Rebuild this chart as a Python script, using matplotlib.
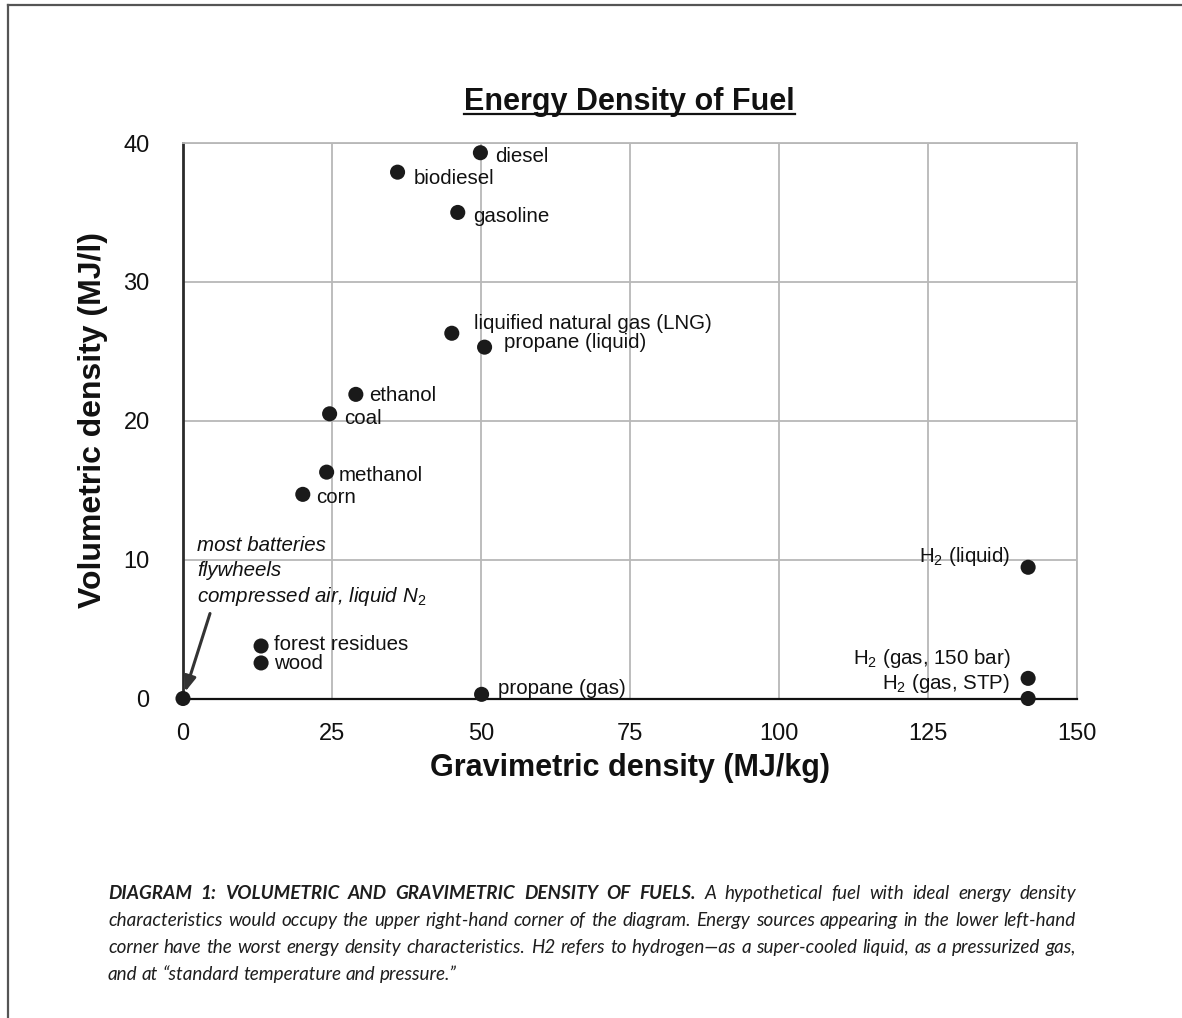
import matplotlib
matplotlib.use("Agg")
import matplotlib.pyplot as plt
from matplotlib.lines import Line2D

plt.rcParams['font.family'] = ['Liberation Sans', 'DejaVu Sans']
plt.rcParams['mathtext.fontset'] = 'custom'
plt.rcParams['mathtext.rm'] = 'Liberation Sans'
plt.rcParams['mathtext.it'] = 'Liberation Sans:italic'
plt.rcParams['mathtext.bf'] = 'Liberation Sans:bold'

# ---------------- data ----------------
fuels = ["diesel", "biodiesel", "gasoline", "liquified natural gas (LNG)",
         "propane (liquid)", "ethanol", "coal", "methanol", "corn",
         "forest residues", "wood", "", "propane (gas)",
         "H$_2$ (liquid)", "H$_2$ (gas, 150 bar)", "H$_2$ (gas, STP)"]
gravimetric = [49.9, 36.0, 46.1, 45.1, 50.6, 29.0, 24.6, 24.1, 20.1,
               13.1, 13.1, 0.0, 50.1, 141.8, 141.8, 141.8]
volumetric = [39.3, 37.9, 35.0, 26.3, 25.3, 21.9, 20.5, 16.3, 14.7,
              3.78, 2.56, 0.0, 0.3, 9.45, 1.45, 0.0]

x_ticks = [0, 25, 50, 75, 100, 125, 150]
y_ticks = [0, 10, 20, 30, 40]

title = "Energy Density of Fuel"
x_label = "Gravimetric density (MJ/kg)"
y_label = "Volumetric density (MJ/l)"
note_lines = ["most batteries", "flywheels", "compressed air, liquid N$_2$"]

caption_bold = "DIAGRAM 1: VOLUMETRIC AND GRAVIMETRIC DENSITY OF FUELS."
caption_lines = [
    "A hypothetical fuel with ideal energy density",
    "characteristics would occupy the upper right-hand corner of the diagram. Energy sources appearing in the lower left-hand",
    "corner have the worst energy density characteristics. H2 refers to hydrogen\u2014as a super-cooled liquid, as a pressurized gas,",
    "and at \u201cstandard temperature and pressure.\u201d",
]

# label placement (pixel offsets from point, ha)
label_style = [
    (15, -4, 'left'), (16, -6, 'left'), (15, -4, 'left'), (22, 10, 'left'),
    (19, 5, 'left'), (13, -1, 'left'), (15, -5, 'left'), (12, -3, 'left'),
    (13, -3, 'left'), (13, 2, 'left'), (13, -1, 'left'), (0, 0, 'left'),
    (16, 6, 'left'), (-18, 11, 'right'), (-18, 20, 'right'), (-18, 15, 'right'),
]

# ---------------- figure ----------------
W, H = 1182, 1018
fig = plt.figure(figsize=(W / 100, H / 100), dpi=100)
fig.patch.set_facecolor('white')

def fx(px):
    return px / W

def fy(py):
    return 1 - py / H

# page frame (top and left edges visible)
fig.add_artist(Line2D([fx(8), fx(8)], [fy(5), fy(H + 5)], color='#555555', lw=1.6))
fig.add_artist(Line2D([fx(8), fx(W + 5)], [fy(5), fy(5)], color='#555555', lw=1.6))

ax_l, ax_r, ax_t, ax_b = 183, 1077, 143, 698.5
ax = fig.add_axes([fx(ax_l), fy(ax_b), fx(ax_r - ax_l), (ax_b - ax_t) / H])
ax.set_xlim(0, 150)
ax.set_ylim(0, 40)
ax.set_xticks(x_ticks)
ax.set_yticks(y_ticks)
ax.set_xticklabels([str(v) for v in x_ticks])
ax.set_yticklabels([str(v) for v in y_ticks])
ax.tick_params(axis='both', length=0, labelsize=17, colors='#111111')
ax.tick_params(axis='x', pad=18)
ax.tick_params(axis='y', pad=24)
ax.grid(True, color='#b8b8b8', lw=1.3)
ax.set_axisbelow(True)
for side in ['top', 'right']:
    ax.spines[side].set_color('#b8b8b8')
    ax.spines[side].set_linewidth(1.3)
ax.spines['left'].set_color('#2a2a2a')
ax.spines['left'].set_linewidth(2.0)
ax.spines['bottom'].set_color('#111111')
ax.spines['bottom'].set_linewidth(1.6)

ax.scatter(gravimetric, volumetric, s=118, color='#1a1a1a', zorder=4, clip_on=False,
           edgecolors='none')

for name, gx, vy, (dx, dy, ha) in zip(fuels, gravimetric, volumetric, label_style):
    if not name:
        continue
    ax.annotate(name, xy=(gx, vy), xytext=(dx, dy), textcoords='offset pixels',
                ha=ha, va='center', fontsize=14.8, color='#111111', zorder=5)

# note about batteries etc., anchored to the origin point
oi = fuels.index("")
ox, oy = gravimetric[oi], volumetric[oi]
for txt, dy in zip(note_lines, [153, 128, 102]):
    ax.annotate(txt, xy=(ox, oy), xytext=(14, dy), textcoords='offset pixels',
                ha='left', va='center', fontsize=14.8, style='italic', color='#111111')
ax.annotate('', xy=(ox, oy), xytext=(27, 85), textcoords='offset pixels',
            arrowprops=dict(arrowstyle='-|>,head_length=0.9,head_width=0.35',
                            color='#333333', lw=2.2, shrinkA=0, shrinkB=5))

# axis labels
fig.text(fx(93), fy(420), y_label, rotation=90, ha='center', va='center',
         fontsize=23, fontweight='bold', color='#111111')
fig.text(fx(629.5), fy(768), x_label, ha='center', va='center',
         fontsize=22, fontweight='bold', color='#111111')

# title with underline
t = fig.text(fx(629.5), fy(110), title, ha='center', va='baseline',
             fontsize=22, fontweight='bold', color='#111111')
renderer = fig.canvas.get_renderer()
bb = t.get_window_extent(renderer)
fig.add_artist(Line2D([bb.x0 / W, bb.x1 / W], [fy(114), fy(114)], color='#111111', lw=1.6))

# caption, justified
cap_font = dict(family=['Lato', 'DejaVu Sans'], style='italic', fontsize=13.6, color='#1e1e1e')
cap_left, cap_right = 108, 1076
baselines = [899, 926, 953, 980]

def place_justified(words, y_px, justify=True):
    artists = []
    widths = []
    for w, bold in words:
        a = fig.text(0, fy(y_px), w, ha='left', va='baseline',
                     fontweight='bold' if bold else 'normal', **cap_font)
        artists.append(a)
        widths.append(a.get_window_extent(renderer).width)
    n = len(words)
    if justify and n > 1:
        gap = (cap_right - cap_left - sum(widths)) / (n - 1)
    else:
        sp = fig.text(0, 0, 'a a', **cap_font)
        sp2 = fig.text(0, 0, 'aa', **cap_font)
        gap = sp.get_window_extent(renderer).width - sp2.get_window_extent(renderer).width
        sp.remove(); sp2.remove()
    x = cap_left
    for a, wdt in zip(artists, widths):
        a.set_x(x / W)
        x += wdt + gap

line_words = [[(w, True) for w in caption_bold.split()] +
              [(w, False) for w in caption_lines[0].split()]]
for ln in caption_lines[1:]:
    line_words.append([(w, False) for w in ln.split()])
for i, (words, yb) in enumerate(zip(line_words, baselines)):
    place_justified(words, yb, justify=(i < len(line_words) - 1))

fig.savefig('out.png', dpi=100, facecolor='white')
